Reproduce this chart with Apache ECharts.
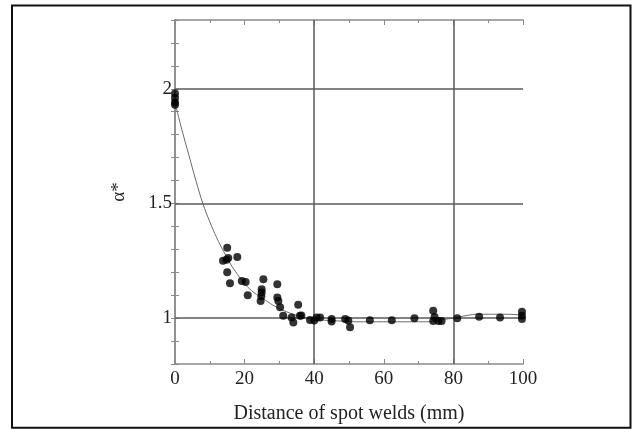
<!DOCTYPE html>
<html>
<head>
<meta charset="utf-8">
<script src="https://cdn.jsdelivr.net/npm/echarts@6/dist/echarts.min.js"></script>
<style>
html,body{margin:0;padding:0;background:#fff;}
#chart{width:632px;height:429px;}
</style>
</head>
<body>
<div id="chart"></div>
<script>
// Measured points
var pointX = [0, 0, 0, 0, 13.8, 14.8, 15.0, 15.3, 17.9, 15.0, 15.8, 19.2, 20.3, 20.9,
  25.4, 24.9, 24.9, 24.8, 24.6, 29.4, 29.4, 29.7, 30.2, 31.1, 33.5, 34.0, 35.4, 35.9, 36.3,
  38.8, 40.0, 40.7, 41.7, 45.0, 45.0, 48.9, 49.8, 50.3, 56.0, 62.3, 68.8,
  74.2, 74.2, 74.6, 75.7, 76.6, 81.1, 87.4, 93.4, 99.7, 99.7, 99.7];
var pointY = [1.98, 1.96, 1.94, 1.93, 1.25, 1.255, 1.307, 1.262, 1.267, 1.20, 1.152, 1.162, 1.158, 1.10,
  1.17, 1.126, 1.112, 1.095, 1.075, 1.148, 1.09, 1.075, 1.047, 1.01, 1.003, 0.981, 1.058, 1.01, 1.012,
  0.992, 0.99, 1.003, 1.003, 0.996, 0.985, 0.996, 0.99, 0.96, 0.991, 0.991, 0.999,
  1.032, 0.988, 1.005, 0.988, 0.988, 1.0, 1.006, 1.003, 1.028, 1.01, 0.996];
// Fitted curve
var curveX = [0, 2, 4, 6, 8, 10, 12, 14, 16, 18, 20, 22, 24, 26, 28, 30, 32, 34, 36, 38, 40, 44, 48, 52, 60, 70, 74, 77, 80, 84, 87, 95, 100];
var curveY = [1.94, 1.82, 1.71, 1.60, 1.50, 1.42, 1.35, 1.29, 1.235, 1.19, 1.15, 1.12, 1.097, 1.078, 1.058, 1.042, 1.028, 1.017, 1.008, 1.0, 0.995, 0.99, 0.987, 0.984, 0.984, 0.984, 0.985, 0.994, 1.0, 1.012, 1.017, 1.017, 1.013];
// Axis settings
var xTickLabels = [0, 20, 40, 60, 80, 100];
var yTickLabels = [1, 1.5, 2];
var gridXValues = [40, 80];
var gridYValues = [1, 1.5, 2];

var FONT = 'Liberation Serif';
var frameColor = '#8a8a8a';
var gridColor = '#5a5a5a';

var points = pointX.map(function (x, i) { return [x, pointY[i]]; });
var curve = curveX.map(function (x, i) { return [x, curveY[i]]; });

var markData = gridXValues.map(function (v) { return { xAxis: v }; })
  .concat(gridYValues.map(function (v) { return { yAxis: v }; }));

var chart = echarts.init(document.getElementById('chart'), null, { renderer: 'canvas' });
var baseX = {
  type: 'value', min: 0, max: 100, interval: 20,
  axisLine: { show: true, lineStyle: { color: frameColor, width: 1.5 } },
  axisTick: { show: true, inside: true, length: 5, lineStyle: { color: frameColor } },
  minorTick: { show: true, splitNumber: 2, length: 3, lineStyle: { color: frameColor } },
  splitLine: { show: false }
};
var baseY = {
  type: 'value', min: 0.8, max: 2.3, interval: 0.1,
  axisLine: { show: true, lineStyle: { color: frameColor, width: 1.5 } },
  axisTick: { show: true, inside: true, length: 4, lineStyle: { color: frameColor } },
  splitLine: { show: false }
};
function fmtY(v) {
  var r = Math.round(v * 10) / 10;
  return yTickLabels.indexOf(r) >= 0 ? String(r) : '';
}
function fmtX(v) {
  return xTickLabels.indexOf(Math.round(v)) >= 0 ? String(Math.round(v)) : '';
}
chart.setOption({
  backgroundColor: '#fff',
  animation: false,
  grid: { left: 175, right: 109, top: 20, bottom: 65 },
  graphic: [{
    type: 'rect', shape: { x: 12, y: 5.5, width: 618.5, height: 422.3 },
    style: { fill: 'none', stroke: '#111', lineWidth: 2 }, z: 100
  }],
  xAxis: [
    Object.assign({}, baseX, {
      position: 'bottom',
      name: 'Distance of spot welds (mm)', nameLocation: 'middle', nameGap: 40,
      nameTextStyle: { fontFamily: FONT, fontSize: 20, color: '#222' },
      axisLabel: { formatter: fmtX, fontFamily: FONT, fontSize: 19, color: '#222', margin: 6 }
    }),
    Object.assign({}, baseX, { position: 'top', axisLabel: { show: false } })
  ],
  yAxis: [
    Object.assign({}, baseY, {
      position: 'left',
      name: 'α*', nameLocation: 'middle', nameGap: 46, nameRotate: 90,
      nameTextStyle: { fontFamily: FONT, fontSize: 19, color: '#222' },
      axisLabel: { formatter: fmtY, fontFamily: FONT, fontSize: 19, color: '#222', margin: 3 }
    }),
    Object.assign({}, baseY, { position: 'right', axisLabel: { show: false } })
  ],
  series: [
    {
      type: 'line', data: curve, smooth: 0.4, showSymbol: false, symbol: 'none',
      lineStyle: { color: '#6a6a6a', width: 1 }, z: 2,
      markLine: {
        silent: true, symbol: ['none', 'none'], label: { show: false },
        lineStyle: { color: gridColor, width: 1.5, type: 'solid' },
        data: markData, animation: false
      }
    },
    {
      type: 'scatter', data: points, symbol: 'circle', symbolSize: 8,
      itemStyle: { color: '#000' }, z: 5
    }
  ]
});
</script>
</body>
</html>
